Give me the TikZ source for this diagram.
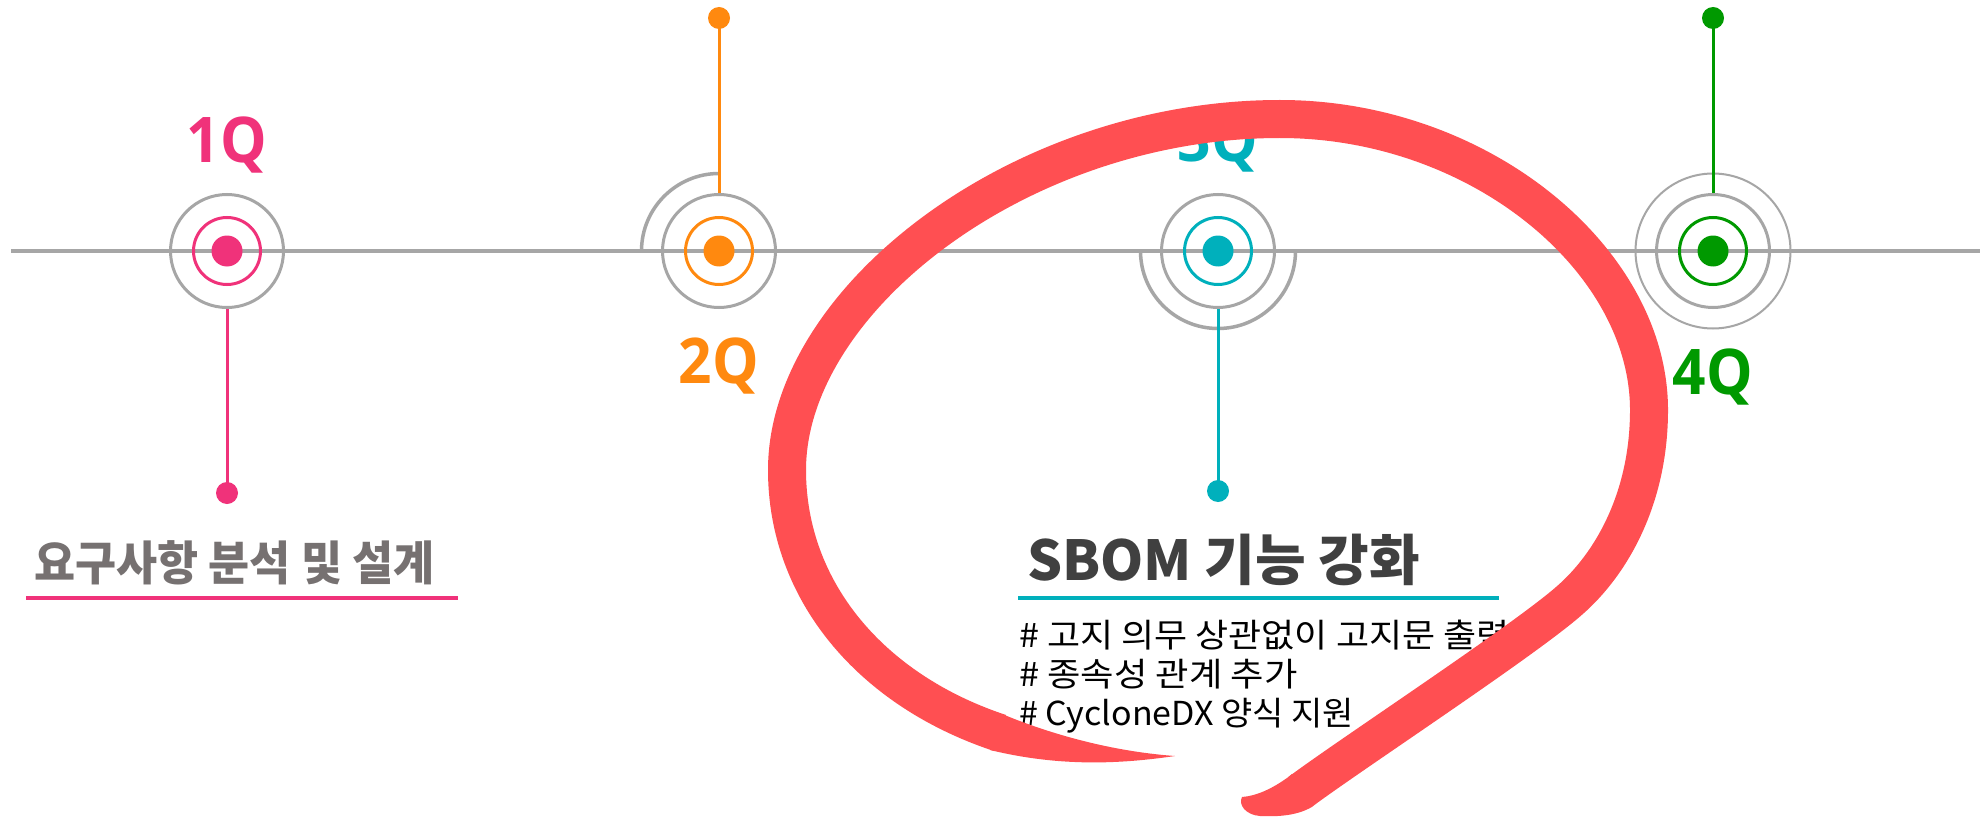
\documentclass[tikz,border=0pt]{standalone}
\usepackage{fontspec}
\newfontfamily\kr{Noto Sans CJK KR}
\newfontfamily\lab{Open Sans}
\definecolor{cpink}{RGB}{240,50,122}
\definecolor{corange}{RGB}{255,137,15}
\definecolor{cteal}{RGB}{0,176,188}
\definecolor{cgreen}{RGB}{0,153,0}
\definecolor{cgrayline}{RGB}{166,166,166}
\definecolor{ctitle}{RGB}{118,113,113}
\definecolor{cdark}{RGB}{64,64,64}
\definecolor{cred}{RGB}{255,79,82}
\begin{document}
\begin{tikzpicture}[x=1pt,y=-1pt,
  axisline/.style={draw=cgrayline,line width=3.3pt},
  grayring/.style={circle,draw=cgrayline,line width=3pt,inner sep=0pt,minimum size=113pt},
  thinring/.style={circle,draw=cgrayline,line width=2pt,inner sep=0pt,minimum size=155pt},
  arcline/.style={draw=cgrayline,line width=3.5pt},
  colring/.style={circle,draw=#1,line width=3pt,inner sep=0pt,minimum size=67pt},
  cdot/.style={circle,fill=#1,inner sep=0pt,minimum size=31pt},
  enddot/.style={circle,fill=#1,inner sep=0pt,minimum size=22pt},
  stem/.style={draw=#1,line width=3pt},
  qlabel/.style={text=#1,font=\lab\bfseries\fontsize{63}{63}\selectfont,anchor=base,inner sep=0pt},
  uline/.style={draw=#1,line width=4pt},
  ktitle/.style={anchor=base west,inner sep=0pt,font=\kr\bfseries\fontsize{#1}{#1}\selectfont},
  kbullet/.style={anchor=base west,inner sep=0pt,text=black,font=\kr\fontsize{33}{39}\selectfont},
  marker/.style={draw=cred,line width=38pt,line join=round}
]
\fill[white] (0,0) rectangle (1980,821);
\useasboundingbox (0,0) rectangle (1980,821);

% timeline axis
\coordinate (ls) at (11,251);
\coordinate (le) at (1980,251);
\draw[axisline] (ls) -- (le);

% 1Q
\node[grayring] (q1o) at (227,251) {};
\node[colring=cpink] (q1r) at (227,251) {};
\node[cdot=cpink] (q1c) at (227,251) {};
\node[enddot=cpink] (q1e) at (227,493) {};
\draw[stem=cpink] (q1o.south) -- (q1e.center);
\node[qlabel=cpink] (q1l) at (227,163) {\scalebox{0.93}[1]{1Q}};

% 2Q
\coordinate (q2a) at (641.5,251);
\draw[arcline] (q2a) arc[start angle=180,end angle=90,radius=77.5pt];
\node[grayring] (q2o) at (719,251) {};
\node[colring=corange] (q2r) at (719,251) {};
\node[cdot=corange] (q2c) at (719,251) {};
\node[enddot=corange] (q2e) at (719,18) {};
\draw[stem=corange] (q2o.north) -- (q2e.center);
\node[qlabel=corange] (q2l) at (719,383) {\scalebox{0.93}[1]{2Q}};

% 3Q
\coordinate (q3a) at (1140.5,251);
\draw[arcline] (q3a) arc[start angle=180,end angle=360,radius=77.5pt];
\node[grayring] (q3o) at (1218,251) {};
\node[colring=cteal] (q3r) at (1218,251) {};
\node[cdot=cteal] (q3c) at (1218,251) {};
\node[enddot=cteal] (q3e) at (1218,491) {};
\draw[stem=cteal] (q3o.south) -- (q3e.center);
\node[qlabel=cteal] (q3l) at (1218,162) {\scalebox{0.93}[1]{3Q}};

% 4Q
\node[thinring] (q4w) at (1713,251) {};
\node[grayring] (q4o) at (1713,251) {};
\node[colring=cgreen] (q4r) at (1713,251) {};
\node[cdot=cgreen] (q4c) at (1713,251) {};
\node[enddot=cgreen] (q4e) at (1713,18) {};
\draw[stem=cgreen] (q4o.north) -- (q4e.center);
\node[qlabel=cgreen] (q4l) at (1713,394) {\scalebox{0.93}[1]{4Q}};

% 1Q text block
\node[ktitle=47,text=ctitle] (t1) at (34,580) {\scalebox{0.95}[1]{요구사항 분석 및 설계}};
\coordinate (u1a) at (26,598);
\coordinate (u1b) at (458,598);
\draw[uline=cpink] (u1a) -- (u1b);

% 3Q text block
\node[ktitle=55,text=cdark] (t3) at (1027,580) {SBOM 기능 강화};
\coordinate (u3a) at (1018,598);
\coordinate (u3b) at (1499,598);
\draw[uline=cteal] (u3a) -- (u3b);
\node[kbullet] (b1) at (1019,647) {\scalebox{1.09}[1]{\# 고지 의무 상관없이 고지문 출력}};
\node[kbullet] (b2) at (1019,686) {\scalebox{1.10}[1]{\# 종속성 관계 추가}};
\node[kbullet] (b3) at (1019,725) {\scalebox{1.03}[1]{\# CycloneDX 양식 지원}};

% hand-drawn red marker
\fill[cred] (1002,714) .. controls (1060,738) and (1120,752) .. (1175,756)
  .. controls (1120,764) and (1060,767) .. (990,750) -- cycle;
\draw[marker,line cap=butt] (1000,733)
  .. controls (870,690) and (787,590) .. (787,470)
  .. controls (787,300) and (1020,119) .. (1280,119)
  .. controls (1480,119) and (1649,260) .. (1649,410)
  .. controls (1649,500) and (1610,565) .. (1570,600)
  .. controls (1525,640) and (1348,756) .. (1300,792);
\fill[cred] (1292,774) -- (1288.6,776.8) .. controls (1272,789) and (1256,796) .. (1242,797)
  .. controls (1238,805) and (1246,815) .. (1260,816)
  .. controls (1280,817) and (1298,815) .. (1311.4,807.2) -- (1315,804) -- cycle;
\end{tikzpicture}
\end{document}
